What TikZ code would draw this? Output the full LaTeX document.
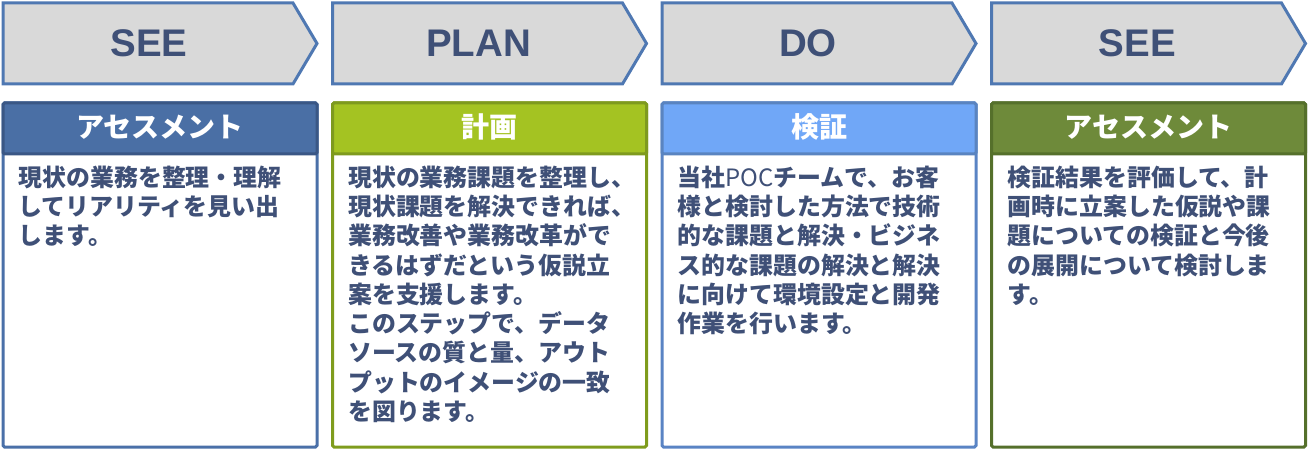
\documentclass[tikz,border=0pt]{standalone}
\usepackage{fontspec}
\setmainfont{Liberation Sans}
\newfontfamily\jp{Noto Sans CJK JP}
\definecolor{chevgray}{HTML}{D9D9D9}
\definecolor{chevblue}{HTML}{4F78B2}
\definecolor{textblue}{HTML}{3F5077}
\definecolor{hdA}{HTML}{4A6FA5}
\definecolor{hdAline}{HTML}{3A5785}
\definecolor{bxA}{HTML}{4A70A8}
\definecolor{hdB}{HTML}{A4C322}
\definecolor{hdBline}{HTML}{7E9A1E}
\definecolor{bxB}{HTML}{7F9C1D}
\definecolor{hdC}{HTML}{70A7F7}
\definecolor{hdCline}{HTML}{5A84C0}
\definecolor{bxC}{HTML}{5A84C4}
\definecolor{hdD}{HTML}{6E8A3A}
\definecolor{hdDline}{HTML}{55702B}
\definecolor{bxD}{HTML}{55702B}
\tikzset{
  chev/.style={draw=chevblue, line width=3pt, fill=chevgray, line join=miter},
  chevtext/.style={font=\fontsize{38.5}{38.5}\selectfont\bfseries, text=textblue, inner sep=0pt},
  boxframe/.style={line width=3pt, fill=white, rounded corners=1.5pt},
  hdbar/.style={line width=3pt, rounded corners=1.5pt},
  hdtext/.style={font=\jp\bfseries\fontsize{28}{28}\selectfont, text=white, inner sep=0pt},
  bodytext/.style={font=\jp\bfseries\fontsize{23.9}{29.3}\selectfont, text=textblue, align=left, anchor=north west, inner sep=0pt},
}
\begin{document}
\begin{tikzpicture}[x=1pt,y=-1pt]
\useasboundingbox (0,0) rectangle (1310,449);
% chevrons
\foreach \x/\lab/\nm in {3/SEE/c1, 332.5/PLAN/c2, 662/DO/c3, 991.5/SEE/c4}{
  \draw[chev] (\x,3) -- (\x+290,3) -- (\x+314,43.5) -- (\x+290,84) -- (\x,84) -- cycle;
  \node[chevtext] (\nm) at (\x+146,43.5) {\lab};
}
% boxes
\foreach \x/\bx/\hd/\hdl/\nm/\lab in {3/bxA/hdA/hdAline/h1/アセスメント, 332.5/bxB/hdB/hdBline/h2/計画, 662/bxC/hdC/hdCline/h3/検証, 991.5/bxD/hdD/hdDline/h4/アセスメント}{
  \draw[boxframe, draw=\bx] (\x,103) rectangle (\x+314,447);
  \draw[hdbar, draw=\hdl, fill=\hd] (\x,103) rectangle (\x+314,154);
  \node[hdtext] (\nm) at (\x+157,127) {\lab};
}
\node[bodytext] (t1) at (18.5,165.5) {現状の業務を整理・理解\\してリアリティを見い出\\します。};
\node[bodytext] (t2) at (348,165.5) {現状の業務課題を整理し、\\現状課題を解決できれば、\\業務改善や業務改革がで\\きるはずだという仮説立\\案を支援します。\\このステップで、データ\\ソースの質と量、アウト\\プットのイメージの一致\\を図ります。};
\node[bodytext] (t3) at (677.5,165.5) {当社{\mdseries POC}チームで、お客\\様と検討した方法で技術\\的な課題と解決・ビジネ\\ス的な課題の解決と解決\\に向けて環境設定と開発\\作業を行います。};
\node[bodytext] (t4) at (1007.5,165.5) {検証結果を評価して、計\\画時に立案した仮説や課\\題についての検証と今後\\の展開について検討しま\\す。};
\end{tikzpicture}
\end{document}
